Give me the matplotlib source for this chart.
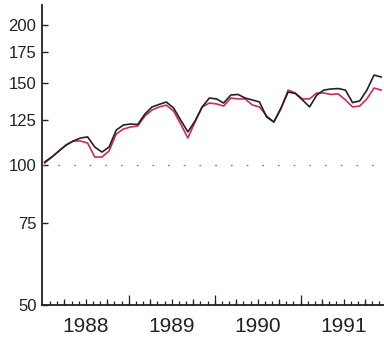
import matplotlib
matplotlib.use("Agg")
import matplotlib.pyplot as plt
import numpy as np
from matplotlib.ticker import FixedLocator, NullFormatter, NullLocator

plt.rcParams['font.family'] = ['Liberation Sans', 'DejaVu Sans']

# monthly index values, Jan 1988 .. Dec 1991
black_vals = [101.5, 104.0, 107.2, 110.4, 112.6, 114.3, 114.9, 109.3, 106.6, 109.3,
              118.9, 121.9, 122.5, 122.2, 128.7, 133.3, 135.0, 136.6, 132.6, 124.9,
              117.8, 124.3, 133.3, 139.3, 138.7, 135.9, 141.4, 141.8, 139.3, 138.0,
              136.6, 126.8, 123.7, 132.6, 143.5, 142.5, 138.0, 133.3, 141.4, 144.9,
              145.7, 146.0, 144.9, 136.2, 137.3, 144.9, 156.1, 154.6]
red_vals = [101.0, 104.0, 107.2, 110.4, 112.6, 112.6, 111.5, 104.0, 104.0, 107.2,
            116.6, 119.5, 120.7, 121.3, 127.5, 131.3, 133.3, 134.5, 130.6, 122.5,
            114.3, 123.7, 133.3, 135.9, 135.3, 133.9, 139.3, 138.7, 138.7, 134.6,
            133.3, 127.5, 123.7, 131.9, 144.9, 142.8, 138.7, 138.7, 142.8, 142.8,
            141.8, 142.2, 138.0, 133.3, 133.9, 138.7, 146.4, 144.9]
start_year = 1988
years = [1988, 1989, 1990, 1991]
y_ticks = [50, 75, 100, 125, 150, 175, 200]
baseline = 100

n = len(black_vals)
x = start_year + (np.arange(n) + 0.25) / 12.0
xlim = (1988 - 0.01, 1988 + (384 - 41)/86.4)

fig = plt.figure(figsize=(3.84, 3.38), dpi=100)
rect = [42/384, 1 - 305/338, 1 - 42/384, 300/338]
ax = fig.add_axes(rect)

ax.set_yscale('log')
ax.set_ylim(50, 100*np.exp(160/202))
ax.set_xlim(*xlim)

ax.axhline(baseline, color='#888888', lw=1.0, linestyle=(0, (1.3, 10)))
ax.plot(x, red_vals, color='#cc2a5c', lw=1.2, zorder=3)
ax.plot(x, black_vals, color='#222222', lw=1.2, zorder=4)

for s in ['top', 'right']:
    ax.spines[s].set_visible(False)
for s in ['left', 'bottom']:
    ax.spines[s].set_linewidth(1.3)
    ax.spines[s].set_color('#222222')

ax.yaxis.set_major_locator(FixedLocator(y_ticks))
ax.yaxis.set_minor_locator(NullLocator())
ax.set_yticklabels([str(v) for v in y_ticks])
ax.tick_params(axis='y', direction='in', length=4, width=1.0, pad=4,
               labelsize=12, colors='#222222')

# x: year labels at mid-year, month ticks as minor
ax.xaxis.set_major_locator(FixedLocator([y + 0.5 for y in years]))
ax.set_xticklabels([str(y) for y in years])
ax.xaxis.set_minor_locator(FixedLocator([start_year + m/12 for m in range(1, 49)]))
ax.tick_params(axis='x', which='major', length=0, pad=9, labelsize=15, colors='#222222')
ax.tick_params(axis='x', which='minor', direction='in', length=3, width=0.9, colors='#222222')

# overlay axes for quarter (minor) and year (major) ticks
ov = fig.add_axes(rect, frameon=False)
ov.patch.set_visible(False)
ov.set_xlim(*xlim)
ov.set_yticks([])
ov.xaxis.set_major_locator(FixedLocator([y for y in years[1:]] + [1992]))
ov.xaxis.set_minor_locator(FixedLocator([start_year + q/4 for q in range(1, 17)]))
ov.xaxis.set_major_formatter(NullFormatter())
ov.xaxis.set_minor_formatter(NullFormatter())
ov.tick_params(axis='x', which='major', direction='in', length=7, width=0.9, colors='#222222')
ov.tick_params(axis='x', which='minor', direction='in', length=4.5, width=0.9, colors='#222222')

fig.savefig('out.png', dpi=100)
